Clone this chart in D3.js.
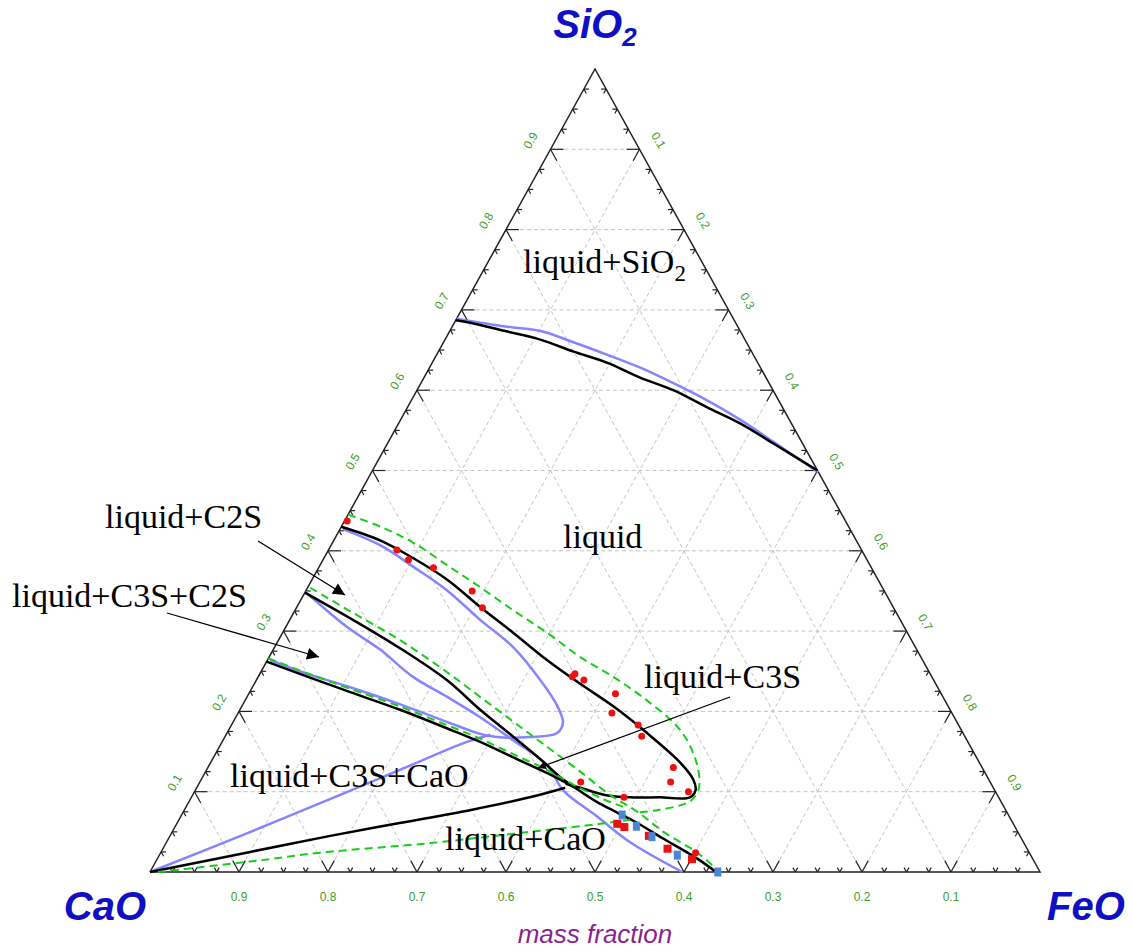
<!DOCTYPE html>
<html>
<head>
<meta charset="utf-8">
<script src="https://cdn.jsdelivr.net/npm/d3@7/dist/d3.min.js"></script>
<style>
  body { margin: 0; background: #fff; }
</style>
</head>
<body>
<svg id="chart" width="1132" height="951"></svg>
<script>
// every composition is [SiO2, FeO] in mass fraction, CaO is the rest
const gridLevels = [0.1, 0.2, 0.3, 0.4, 0.5, 0.6, 0.7, 0.8, 0.9];
const tickLabels = ["0.1", "0.2", "0.3", "0.4", "0.5", "0.6", "0.7", "0.8", "0.9"];

// SiO2 liquidus
const sio2Calc = [[0.687, 0.0], [0.684, 0.018], [0.673, 0.065], [0.663, 0.107], [0.648, 0.152], [0.634, 0.197],
  [0.616, 0.242], [0.600, 0.288], [0.579, 0.336], [0.559, 0.383], [0.534, 0.433], [0.500, 0.500]];
const sio2Blue = [[0.689, 0.0], [0.679, 0.062], [0.674, 0.101], [0.660, 0.145], [0.644, 0.192], [0.628, 0.237],
  [0.609, 0.283], [0.587, 0.333], [0.563, 0.382], [0.536, 0.432], [0.498, 0.502]];

// C2S liquidus, runs to the nose and back along its lower side
const c2sCalc = [[0.430, 0.0], [0.413, 0.052], [0.391, 0.100], [0.364, 0.152], [0.330, 0.206], [0.298, 0.259],
  [0.264, 0.314], [0.235, 0.365], [0.206, 0.418], [0.173, 0.472], [0.136, 0.528], [0.115, 0.553], [0.102, 0.562],
  [0.093, 0.560], [0.093, 0.526], [0.093, 0.493], [0.096, 0.463], [0.105, 0.431], [0.110, 0.412]];
const c2sBlue = [[0.427, 0.003], [0.407, 0.055], [0.380, 0.106], [0.351, 0.158], [0.314, 0.214], [0.280, 0.268],
  [0.239, 0.319], [0.206, 0.355], [0.186, 0.371], [0.173, 0.371], [0.168, 0.343], [0.168, 0.306], [0.172, 0.285],
  [0.187, 0.240], [0.209, 0.176], [0.230, 0.110], [0.250, 0.043], [0.264, 0.003]];
const c2sGreen = [[0.445, 0.0], [0.430, 0.044], [0.410, 0.091], [0.382, 0.143], [0.355, 0.193], [0.326, 0.245],
  [0.298, 0.297], [0.268, 0.349], [0.243, 0.399], [0.214, 0.451], [0.177, 0.507], [0.140, 0.543], [0.106, 0.564],
  [0.090, 0.564], [0.083, 0.554], [0.077, 0.531], [0.074, 0.511]];

// C3S+C2S / C2S border, going on as the CaO liquidus down to the base
const c3sCalc = [[0.348, 0.0], [0.316, 0.067], [0.279, 0.141], [0.239, 0.214], [0.202, 0.270], [0.169, 0.323],
  [0.140, 0.369], [0.118, 0.402], [0.105, 0.425], [0.087, 0.459], [0.074, 0.488], [0.061, 0.517], [0.042, 0.555],
  [0.017, 0.606], [0.0, 0.636]];
const c3sBlue = [[0.349, 0.0], [0.305, 0.069], [0.277, 0.120], [0.243, 0.174], [0.218, 0.225], [0.193, 0.274],
  [0.164, 0.326], [0.133, 0.380], [0.102, 0.413], [0.069, 0.468], [0.037, 0.521], [0.0, 0.598]];
const c3sGreen = [[0.354, 0.003], [0.325, 0.062], [0.289, 0.136], [0.249, 0.209], [0.218, 0.262], [0.187, 0.315],
  [0.156, 0.368], [0.125, 0.421], [0.096, 0.469], [0.075, 0.510], [0.050, 0.552], [0.024, 0.603], [0.0, 0.640]];

// C3S+CaO / C3S+C2S border
const c3sCaoCalc = [[0.262, 0.0], [0.239, 0.068], [0.224, 0.113], [0.202, 0.180], [0.179, 0.244], [0.162, 0.290],
  [0.143, 0.336], [0.123, 0.385], [0.105, 0.425]];
const c3sCaoGreen = [[0.266, 0.0], [0.243, 0.066], [0.228, 0.111], [0.206, 0.178], [0.183, 0.242], [0.166, 0.288],
  [0.147, 0.334], [0.127, 0.383], [0.108, 0.423], [0.090, 0.466], [0.080, 0.494]];

// CaO side
const caoCalc = [[0.0, 0.0], [0.025, 0.100], [0.045, 0.180], [0.061, 0.250], [0.077, 0.321], [0.093, 0.380], [0.105, 0.414]];
const caoBlue = [[0.0, 0.0], [0.050, 0.088], [0.101, 0.174], [0.127, 0.217], [0.162, 0.275], [0.171, 0.297]];
const caoGreen = [[0.0, 0.009], [0.013, 0.106], [0.024, 0.179], [0.036, 0.297], [0.050, 0.402], [0.060, 0.476], [0.065, 0.507]];

// experimental points
const redCircles = [[0.437, 0.003], [0.401, 0.077], [0.389, 0.096], [0.379, 0.129], [0.350, 0.187], [0.329, 0.209],
  [0.243, 0.353], [0.247, 0.354], [0.239, 0.368], [0.222, 0.412], [0.198, 0.420], [0.183, 0.457], [0.169, 0.468],
  [0.130, 0.523], [0.112, 0.529], [0.100, 0.555], [0.112, 0.428], [0.093, 0.486], [0.024, 0.601]];
const redSquares = [[0.060, 0.495], [0.056, 0.505], [0.045, 0.538], [0.029, 0.567], [0.016, 0.601]];
const blueSquares = [[0.071, 0.495], [0.057, 0.518], [0.044, 0.542], [0.021, 0.582], [0.0, 0.638]];

const svg = d3.select("#chart");

// ternary projection
const x = d3.scaleLinear().domain([0, 1]).range([150, 1040]);
const y = d3.scaleLinear().domain([0, 1]).range([872, 69]);
const px = p => x(p[1] + p[0] / 2);
const py = p => y(p[0]);

const line = d3.line().x(px).y(py);

// grid
const grid = svg.append("g");
gridLevels.forEach(v => {
  [[[v, 0], [v, 1 - v]], [[0, v], [1 - v, v]], [[0, 1 - v], [1 - v, 0]]].forEach(seg => {
    grid.append("path")
      .attr("d", line(seg))
      .attr("fill", "none")
      .attr("stroke", "#c4c4c4")
      .attr("stroke-width", 1)
      .attr("stroke-dasharray", "4,3");
  });
});

// frame
svg.append("path")
  .attr("d", line([[0, 0], [1, 0], [0, 1], [0, 0]]))
  .attr("fill", "none")
  .attr("stroke", "#222")
  .attr("stroke-width", 1.5);

// ticks, two short strokes along the grid directions
function unit(dx, dy) { const l = Math.hypot(dx, dy); return [dx / l, dy / l]; }
const upRight = unit(445, -803), upLeft = unit(-445, -803), downRight = unit(445, 803), downLeft = unit(-445, 803);
const edges = [
  { at: t => [t, 0], dirs: [[1, 0], downRight] },       // CaO-SiO2 side
  { at: t => [0, t], dirs: [upRight, upLeft] },         // CaO-FeO side
  { at: t => [t, 1 - t], dirs: [[-1, 0], downLeft] }    // SiO2-FeO side
];
const ticks = svg.append("g").attr("stroke", "#222").attr("stroke-width", 1.2);
for (let i = 1; i < 40; i++) {
  const t = i / 40;
  const len = i % 4 === 0 ? 13 : 5;
  edges.forEach(e => {
    const p = e.at(t);
    const x0 = px(p), y0 = py(p);
    e.dirs.forEach(d => {
      ticks.append("line")
        .attr("x1", x0).attr("y1", y0)
        .attr("x2", x0 + d[0] * len).attr("y2", y0 + d[1] * len);
    });
  });
}

// tick labels
const labelColor = "#3c9e28";
const tl = svg.append("g")
  .attr("font-family", "Arial, 'Liberation Sans', sans-serif")
  .attr("font-size", 12)
  .attr("fill", labelColor)
  .attr("text-anchor", "middle");
gridLevels.forEach((v, i) => {
  // SiO2 on the left side
  const a = [v, 0];
  tl.append("text")
    .attr("transform", `translate(${px(a) - 20},${py(a) - 9}) rotate(-60)`)
    .attr("dy", "0.35em")
    .text(tickLabels[i]);
  // FeO on the right side
  const b = [1 - v, v];
  tl.append("text")
    .attr("transform", `translate(${px(b) + 19},${py(b) - 9}) rotate(60)`)
    .attr("dy", "0.35em")
    .text(tickLabels[i]);
  // CaO along the base
  const c = [0, 1 - v];
  tl.append("text")
    .attr("x", px(c))
    .attr("y", py(c) + 25)
    .attr("dy", "0.35em")
    .text(tickLabels[i]);
});

// curves
const curves = [
  { data: sio2Blue, color: "#8585ff", width: 2.5 },
  { data: c2sBlue, color: "#8585ff", width: 2.5 },
  { data: c3sBlue, color: "#8585ff", width: 2.5 },
  { data: caoBlue, color: "#8585ff", width: 2.5 },
  { data: sio2Calc, color: "#000", width: 2.5 },
  { data: c2sCalc, color: "#000", width: 2.5 },
  { data: c3sCalc, color: "#000", width: 2.5 },
  { data: c3sCaoCalc, color: "#000", width: 2.5 },
  { data: caoCalc, color: "#000", width: 2.5 },
  { data: c2sGreen, color: "#19cc19", width: 2, dash: "8,5" },
  { data: c3sGreen, color: "#19cc19", width: 2, dash: "8,5" },
  { data: c3sCaoGreen, color: "#19cc19", width: 2, dash: "8,5" },
  { data: caoGreen, color: "#19cc19", width: 2, dash: "8,5" }
];
const smooth = d3.line().x(px).y(py).curve(d3.curveCatmullRom.alpha(0.5));
curves.forEach(c => {
  svg.append("path")
    .attr("d", smooth(c.data))
    .attr("fill", "none")
    .attr("stroke", c.color)
    .attr("stroke-width", c.width)
    .attr("stroke-linejoin", "round")
    .attr("stroke-dasharray", c.dash || null);
});

// markers
svg.append("g").selectAll("circle")
  .data(redCircles)
  .enter().append("circle")
  .attr("cx", px).attr("cy", py)
  .attr("r", 3.5)
  .attr("fill", "#ee1010");
svg.append("g").selectAll("rect")
  .data(redSquares)
  .enter().append("rect")
  .attr("x", d => px(d) - 4).attr("y", d => py(d) - 4)
  .attr("width", 8).attr("height", 8)
  .attr("fill", "#ee1010");
svg.append("g").selectAll("rect")
  .data(blueSquares)
  .enter().append("rect")
  .attr("x", d => px(d) - 3.5).attr("y", d => py(d) - 4.5)
  .attr("width", 7).attr("height", 9)
  .attr("fill", "#4a86d6");

// corner labels
const corner = svg.append("g")
  .attr("font-family", "Arial, 'Liberation Sans', sans-serif")
  .attr("font-weight", "bold")
  .attr("font-style", "italic")
  .attr("font-size", 40)
  .attr("fill", "#0f0fc4");
const si = corner.append("text").attr("x", 595).attr("y", 38).attr("text-anchor", "middle");
si.append("tspan").text("SiO");
si.append("tspan").attr("font-size", 26).attr("dy", 8).text("2");
corner.append("text").attr("x", 146).attr("y", 920).attr("text-anchor", "end").text("CaO");
corner.append("text").attr("x", 1047).attr("y", 920).text("FeO");

svg.append("text")
  .attr("x", 595).attr("y", 943)
  .attr("text-anchor", "middle")
  .attr("font-family", "Arial, 'Liberation Sans', sans-serif")
  .attr("font-style", "italic")
  .attr("font-size", 26)
  .attr("fill", "#8b1f8f")
  .text("mass fraction");

// phase field labels
const fields = svg.append("g")
  .attr("font-family", "'Liberation Serif', 'Times New Roman', serif")
  .attr("font-size", 34)
  .attr("fill", "#000");
const sl = fields.append("text").attr("x", 523).attr("y", 273);
sl.append("tspan").text("liquid+SiO");
sl.append("tspan").attr("font-size", 23).attr("dy", 8).text("2");
fields.append("text").attr("x", 563).attr("y", 548).text("liquid");
fields.append("text").attr("x", 105).attr("y", 528).text("liquid+C2S");
fields.append("text").attr("x", 12).attr("y", 607).text("liquid+C3S+C2S");
fields.append("text").attr("x", 644).attr("y", 688).text("liquid+C3S");
fields.append("text").attr("x", 230).attr("y", 787).text("liquid+C3S+CaO");
fields.append("text").attr("x", 445).attr("y", 850).text("liquid+CaO");

// arrows
const defs = svg.append("defs");
defs.append("marker")
  .attr("id", "head").attr("viewBox", "0 0 10 10")
  .attr("refX", 10).attr("refY", 5)
  .attr("markerWidth", 16).attr("markerHeight", 12)
  .attr("markerUnits", "userSpaceOnUse")
  .attr("orient", "auto")
  .append("path").attr("d", "M0,0L10,5L0,10z").attr("fill", "#000");
defs.append("marker")
  .attr("id", "headSmall").attr("viewBox", "0 0 10 10")
  .attr("refX", 10).attr("refY", 5)
  .attr("markerWidth", 10).attr("markerHeight", 8)
  .attr("markerUnits", "userSpaceOnUse")
  .attr("orient", "auto")
  .append("path").attr("d", "M0,0L10,5L0,10z").attr("fill", "#000");
const arrows = [
  { from: [258, 541], to: [345, 595], head: "head" },
  { from: [167, 613], to: [319, 657], head: "head" },
  { from: [730, 697], to: [538, 768], head: "headSmall" }
];
arrows.forEach(a => {
  svg.append("line")
    .attr("x1", a.from[0]).attr("y1", a.from[1])
    .attr("x2", a.to[0]).attr("y2", a.to[1])
    .attr("stroke", "#000").attr("stroke-width", 1.3)
    .attr("marker-end", `url(#${a.head})`);
});
</script>
</body>
</html>
